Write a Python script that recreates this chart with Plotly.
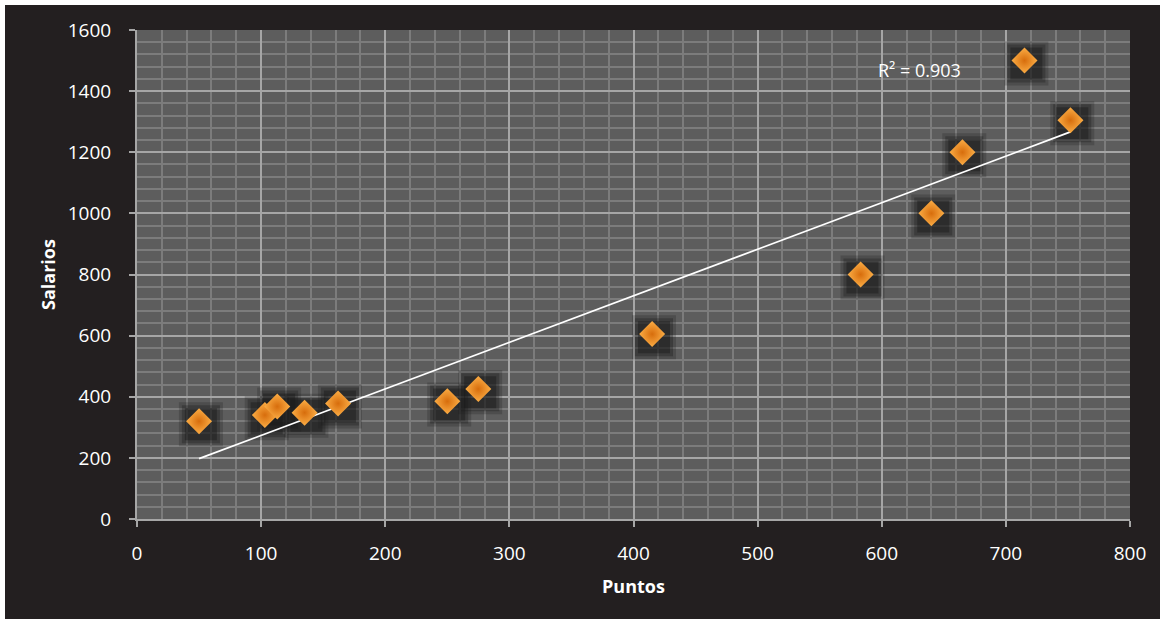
import numpy as np
import plotly.graph_objects as go

# Puntos vs. salarios
puntos = [50, 103, 113, 135, 162, 250, 275, 415, 583, 640, 665, 715, 752]
salarios = [320, 340, 368, 348, 378, 385, 425, 605, 800, 1000, 1200, 1500, 1305]
r2_label = "R² = 0.903"

x_ticks = [0, 100, 200, 300, 400, 500, 600, 700, 800]
y_ticks = [0, 200, 400, 600, 800, 1000, 1200, 1400, 1600]

# linear trend line
slope, intercept = np.polyfit(puntos, salarios, 1)
x_fit = np.array([min(puntos), max(puntos)])
y_fit = slope * x_fit + intercept

FONT = "'Open Sans', Lato, sans-serif"
BG = "#231f20"

fig = go.Figure()

# soft dark shadows behind the markers
for size, col in [(44, "rgba(25,25,25,0.22)"), (38, "rgba(25,25,25,0.32)"), (32, "rgba(25,25,25,0.42)")]:
    fig.add_trace(go.Scatter(
        x=[p + 1.5 for p in puntos], y=[s - 10 for s in salarios],
        mode="markers", hoverinfo="skip", showlegend=False,
        marker=dict(symbol="square", size=size, color=col, line=dict(width=0)),
    ))

fig.add_trace(go.Scatter(
    x=x_fit, y=y_fit, mode="lines", showlegend=False,
    line=dict(color="white", width=1.8),
))

fig.add_trace(go.Scatter(
    x=puntos, y=salarios, mode="markers", showlegend=False,
    marker=dict(symbol="diamond", size=20, color="#fbad45",
                gradient=dict(type="radial", color="#d76d0c"),
                line=dict(width=0)),
))

fig.add_annotation(x=0.79, y=1.0, xref="paper", yref="paper",
                   text=r2_label, showarrow=False, xanchor="center", yanchor="middle",
                   yshift=-40, xshift=-2,
                   font=dict(family=FONT, size=18, color="white"))

axis_common = dict(
    showgrid=True, gridcolor="#a6a6a6", gridwidth=2,
    minor=dict(showgrid=True, gridcolor="#7c7c7c", gridwidth=2, ticks=""),
    zeroline=False, showline=True, linecolor="#a6a6a6", linewidth=2,
    ticks="outside", ticklen=6, tickcolor="#a6a6a6", tickwidth=2,
    tickfont=dict(family=FONT, size=19, color="white"),
)

fig.update_xaxes(range=[0, 800], tickvals=x_ticks, minor_dtick=20, ticklabelstandoff=10,
                 title=dict(text="<b>Puntos</b>", font=dict(family=FONT, size=18, color="white"),
                            standoff=16),
                 **axis_common)
fig.update_yaxes(range=[0, 1600], tickvals=y_ticks, minor_dtick=40, ticklabelstandoff=14,
                 title=dict(text="<b>Salarios</b>", font=dict(family=FONT, size=18, color="white"),
                            standoff=7),
                 **axis_common)

fig.update_layout(
    width=1165, height=624,
    margin=dict(l=137, r=35, t=30, b=105),
    paper_bgcolor=BG, plot_bgcolor="#5d5d5d",
    shapes=[dict(type="rect", xref="paper", yref="paper",
                 x0=(0 - 137) / 993, x1=(1165 - 137) / 993,
                 y0=(519 - 624) / 489, y1=(519 - 0) / 489,
                 line=dict(color="white", width=10), fillcolor="rgba(0,0,0,0)",
                 layer="above")],
)

fig.write_html("out.html")
